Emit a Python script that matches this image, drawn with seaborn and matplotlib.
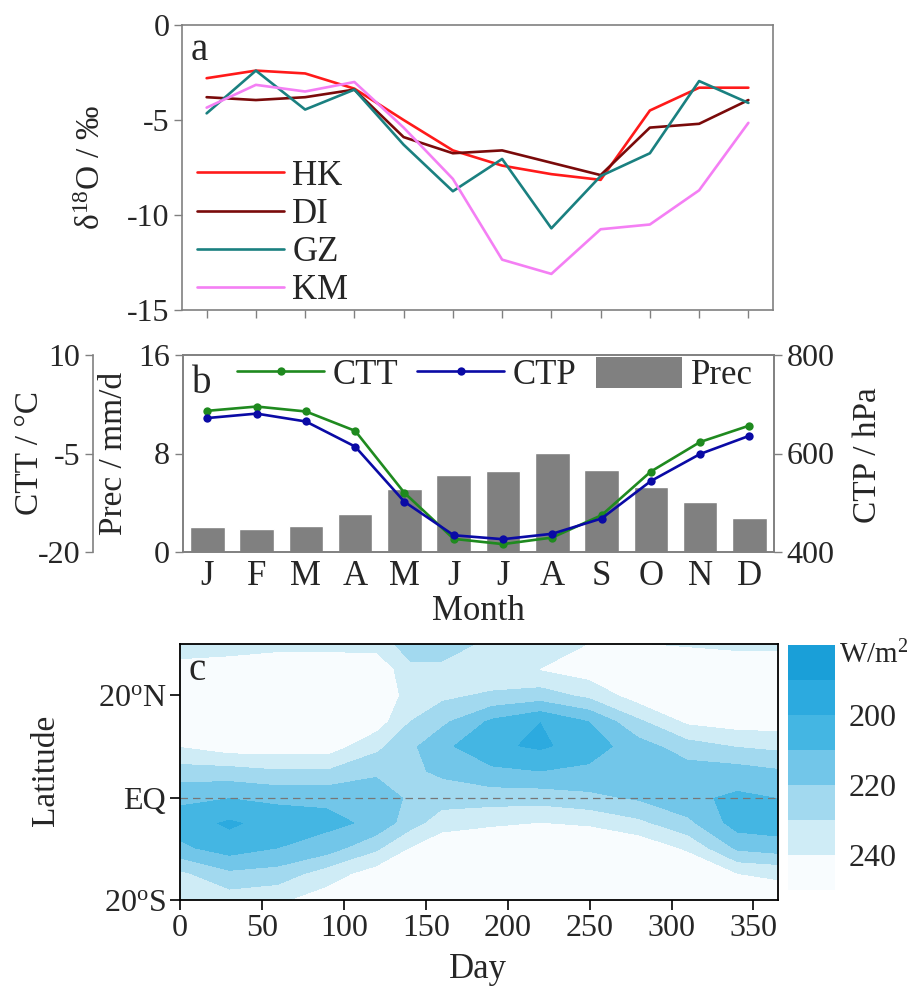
import numpy as np
import pandas as pd
import matplotlib
matplotlib.use('Agg')
import matplotlib.pyplot as plt
import seaborn as sns
from matplotlib.lines import Line2D
from matplotlib.patches import Patch

# ---------------- data ----------------
months = ['J', 'F', 'M', 'A', 'M', 'J', 'J', 'A', 'S', 'O', 'N', 'D']
sites = ['HK', 'DI', 'GZ', 'KM']
site_colors = ['#ff1a1a', '#7a0a0a', '#1a8080', '#f47ff4']
hk = [-2.8, -2.4, -2.55, -3.35, -5.0, -6.6, -7.4, -7.85, -8.15, -4.5, -3.3, -3.3]
di = [-3.8, -3.95, -3.8, -3.4, -5.9, -6.75, -6.6, -7.25, -7.9, -5.4, -5.2, -3.95]
gz = [-4.65, -2.4, -4.45, -3.4, -6.3, -8.75, -7.05, -10.7, -7.95, -6.75, -2.95, -4.1]
km = [-4.35, -3.15, -3.5, -3.0, -5.4, -8.1, -12.35, -13.1, -10.75, -10.5, -8.7, -5.15]

prec = [2.05, 1.9, 2.1, 3.1, 5.15, 6.25, 6.6, 8.05, 6.7, 5.3, 4.05, 2.8]
ctt = [1.5, 2.15, 1.4, -1.55, -11.0, -18.0, -18.8, -17.8, -14.4, -7.75, -3.25, -0.75]
ctp = [672, 681, 665, 614, 502, 434, 426, 437, 468, 544, 599, 636]

# OLR (W/m2), read per latitude row at these days
days = [0, 30, 60, 90, 120, 140, 160, 190, 220, 250, 280, 310, 340, 365]
lats = [-20, -15, -10, -5, 0, 5, 10, 15, 20, 25, 30]
olr_s20 = [240, 235, 238, 245, 252, 255, 255, 255, 255, 255, 255, 255, 250, 246]
olr_s15 = [232, 222, 224, 235, 245, 252, 255, 255, 255, 255, 255, 252, 240, 238]
olr_s10 = [212, 205, 210, 215, 228, 240, 248, 250, 252, 252, 248, 238, 218, 215]
olr_s05 = [205, 198, 204, 207, 212, 225, 235, 238, 240, 238, 232, 222, 205, 204]
olr_eq = [212, 210, 212, 212, 210, 222, 225, 225, 225, 222, 218, 212, 208, 210]
olr_n05 = [225, 225, 228, 228, 222, 222, 218, 212, 210, 212, 212, 215, 215, 218]
olr_n10 = [240, 245, 245, 245, 232, 222, 212, 202, 198, 205, 215, 225, 230, 232]
olr_n15 = [250, 252, 255, 255, 245, 230, 222, 208, 200, 210, 228, 242, 245, 245]
olr_n20 = [250, 252, 255, 255, 250, 235, 232, 228, 225, 232, 245, 252, 252, 252]
olr_n25 = [245, 248, 250, 250, 248, 232, 232, 238, 240, 245, 250, 252, 252, 252]
olr_n30 = [232, 232, 235, 235, 235, 225, 225, 232, 238, 240, 240, 238, 235, 235]
olr_levels = [100, 190, 200, 210, 220, 230, 240, 330]
olr_colors = ['#1a9fd8', '#2caadf', '#44b6e3', '#72c6e9', '#a2d9ef', '#cfecf6', '#f8fcfe']

# ---------------- style ----------------
sns.set_theme(style='white')
plt.rcParams['font.family'] = ['Liberation Serif', 'DejaVu Serif']
plt.rcParams['mathtext.fontset'] = 'custom'
plt.rcParams['mathtext.rm'] = 'Liberation Serif'
plt.rcParams['mathtext.it'] = 'Liberation Serif:italic'
plt.rcParams['axes.unicode_minus'] = False

W, H = 913, 991
fig = plt.figure(figsize=(W / 100, H / 100), dpi=100)


def rect(l, t, r, b):
    return [l / W, 1 - b / H, (r - l) / W, (b - t) / H]


TICK = 23
LAB = 24
GRAY = '#808080'

# ---------------- panel a ----------------
ax_a = fig.add_axes(rect(182, 25, 773, 310))
df_a = pd.DataFrame({'m': np.tile(np.arange(12), 4),
                     'v': hk + di + gz + km,
                     'site': np.repeat(sites, 12)})
sns.lineplot(data=df_a, x='m', y='v', hue='site', palette=dict(zip(sites, site_colors)),
             linewidth=1.9, ax=ax_a, legend=False)
ax_a.set_xlim(-0.5, 11.5)
ax_a.set_ylim(-15, 0)
ax_a.set_yticks([0, -5, -10, -15])
ax_a.set_xticks(range(12))
ax_a.set_xticklabels([])
ax_a.set_xlabel('')
ax_a.set_ylabel('')
ax_a.tick_params(axis='y', labelsize=TICK, length=6, width=1, color=GRAY, direction='out', left=True, pad=3)
ax_a.tick_params(axis='x', length=6, width=1, color=GRAY, direction='out', bottom=True)
for s in ax_a.spines.values():
    s.set_color(GRAY)
    s.set_linewidth(1.2)
ax_a.legend([Line2D([], [], color=c, lw=1.9) for c in site_colors], sites,
            loc='lower left', bbox_to_anchor=(0.025, 0.01), frameon=False,
            fontsize=25, handlelength=2.5, handletextpad=0.25, labelspacing=0.15,
            borderpad=0, borderaxespad=0)
ax_a.text(0.014, 0.877, 'a', transform=ax_a.transAxes, fontsize=28, va='baseline')
fig.text(92 / W, 1 - 168 / H, 'δ$^{18}$O / ‰', rotation=90, ha='center', va='center', fontsize=LAB)

# ---------------- panel b ----------------
ax_b = fig.add_axes(rect(182.7, 355, 774, 552))
sns.barplot(x=np.arange(12), y=prec, color=GRAY, saturation=1, width=0.7, ax=ax_b)
ax_b.set_ylim(0, 16)
ax_b.set_yticks([0, 8, 16])
ax_b.set_xticks(range(12))
ax_b.set_xticklabels(months, fontsize=25)
ax_b.tick_params(axis='x', length=0, pad=6)
ax_b.tick_params(axis='y', labelsize=TICK, length=6, width=1, color=GRAY, direction='out', left=True, pad=3)

ax_ctt = ax_b.twinx()
ax_ctt.spines['left'].set_position(('axes', -0.152))
ax_ctt.spines['left'].set_visible(True)
ax_ctt.yaxis.set_ticks_position('left')
ax_ctt.yaxis.set_label_position('left')
sns.lineplot(x=np.arange(12), y=ctt, ax=ax_ctt, color='#1f8a1f', marker='o', markersize=6,
             markeredgewidth=0, linewidth=1.9)
ax_ctt.set_ylim(-20, 10)
ax_ctt.set_yticks([-20, -5, 10])
ax_ctt.tick_params(axis='y', labelsize=TICK, length=6, width=1, color=GRAY, direction='out', pad=3)

ax_ctp = ax_b.twinx()
sns.lineplot(x=np.arange(12), y=ctp, ax=ax_ctp, color='#0a0aa5', marker='o', markersize=6,
             markeredgewidth=0, linewidth=1.9)
ax_ctp.set_ylim(400, 800)
ax_ctp.set_yticks([400, 600, 800])
ax_ctp.tick_params(axis='y', labelsize=TICK, length=6, width=1, color=GRAY, direction='out', right=True, pad=3)
ax_b.set_xlim(-0.5, 11.5)
for a in (ax_b, ax_ctt, ax_ctp):
    a.set_xlabel('')
    a.set_ylabel('')
    for s in a.spines.values():
        s.set_color(GRAY)
        s.set_linewidth(1.2)
for side in ('top', 'right', 'bottom'):
    ax_ctt.spines[side].set_visible(False)

leg_handles = [Line2D([], [], color='#1f8a1f', lw=1.9, marker='o', markersize=6, markeredgewidth=0),
               Line2D([], [], color='#0a0aa5', lw=1.9, marker='o', markersize=6, markeredgewidth=0),
               Patch(facecolor=GRAY, edgecolor='none')]
ax_ctp.legend(leg_handles, ['CTT', 'CTP', 'Prec'], ncol=3, loc='upper left',
              bbox_to_anchor=(0.092, 0.99), frameon=False, fontsize=25,
              handlelength=2.5, handleheight=1.0, handletextpad=0.25, columnspacing=0.55,
              borderpad=0, borderaxespad=0)
ax_b.text(0.015, 0.805, 'b', transform=ax_b.transAxes, fontsize=28, va='baseline')
fig.text(30 / W, 1 - 453 / H, 'CTT / °C', rotation=90, ha='center', va='center', fontsize=LAB)
fig.text(114 / W, 1 - 453 / H, 'Prec / mm/d', rotation=90, ha='center', va='center', fontsize=LAB)
fig.text(868 / W, 1 - 455 / H, 'CTP / hPa', rotation=90, ha='center', va='center', fontsize=LAB)
fig.text(478 / W, 1 - 612 / H, 'Month', ha='center', va='center', fontsize=25)

# ---------------- panel c ----------------
ax_c = fig.add_axes(rect(180, 644, 778, 900))
Z = np.array([olr_s20, olr_s15, olr_s10, olr_s05, olr_eq, olr_n05,
              olr_n10, olr_n15, olr_n20, olr_n25, olr_n30])
cf = ax_c.contourf(days, lats, Z, levels=olr_levels, colors=olr_colors)
ax_c.axhline(0, color='#777777', lw=0.9, ls=(0, (6, 4)))
ax_c.set_xlim(0, 365)
ax_c.set_ylim(-20, 30)
ax_c.set_xticks(range(0, 351, 50))
ax_c.set_yticks([-20, 0, 20])
ax_c.set_yticklabels(['20$^{\\mathrm{o}}$S', 'EQ', '20$^{\\mathrm{o}}$N'])
ax_c.tick_params(axis='both', labelsize=TICK, length=7, width=1.2, color='black', direction='out',
                 left=True, bottom=True, pad=3)
for s in ax_c.spines.values():
    s.set_color('black')
    s.set_linewidth(1.3)
ax_c.text(0.014, 0.86, 'c', transform=ax_c.transAxes, fontsize=28, va='baseline')
fig.text(46 / W, 1 - 770 / H, 'Latitude', rotation=90, ha='center', va='center', fontsize=LAB)
fig.text(478 / W, 1 - 970 / H, 'Day', ha='center', va='center', fontsize=25)

cax = fig.add_axes(rect(788, 645, 835, 890))
cb = fig.colorbar(cf, cax=cax, ticks=[200, 220, 240])
cax.invert_yaxis()
cb.outline.set_visible(False)
cax.tick_params(labelsize=TICK, length=0, pad=10)
fig.text(874 / W, 1 - 655 / H, 'W/m$^2$', ha='center', va='center', fontsize=21)

fig.savefig('out.png', dpi=100)
